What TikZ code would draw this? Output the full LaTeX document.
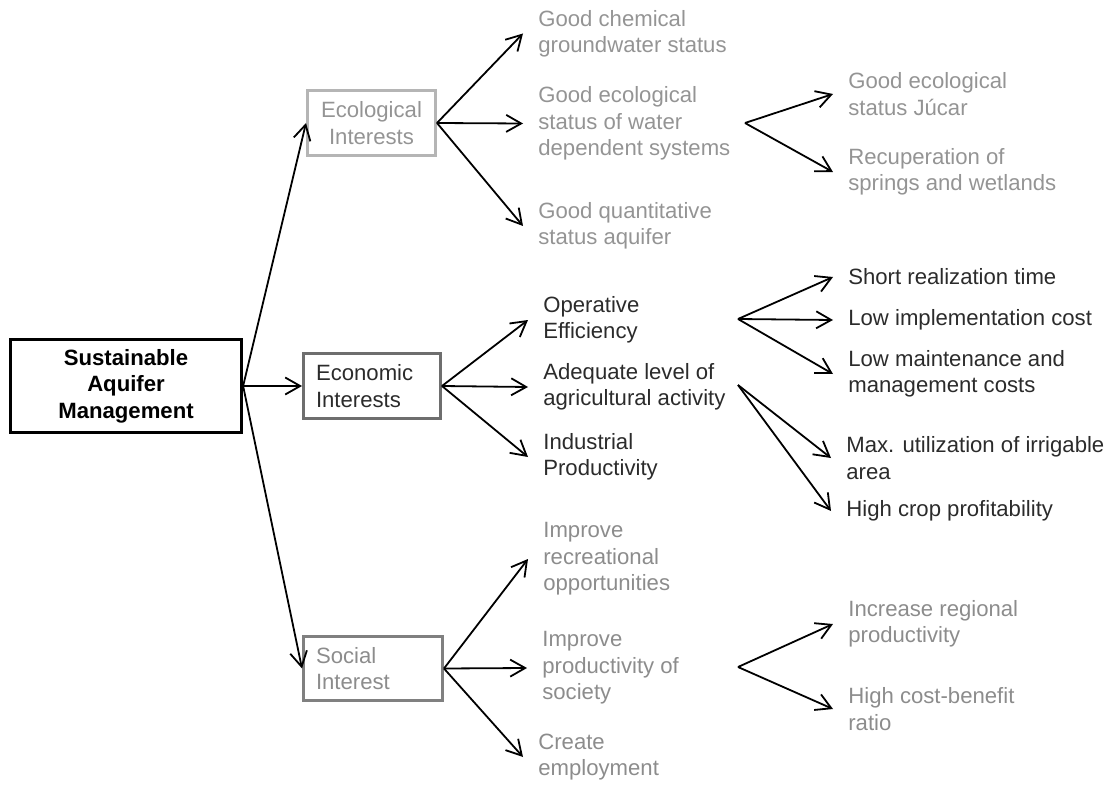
\documentclass[tikz,border=0pt]{standalone}
\usepackage{fontspec}
\setmainfont{Liberation Sans}
\usetikzlibrary{arrows.meta}
\definecolor{ecoline}{gray}{0.71}
\definecolor{ecotext}{gray}{0.58}
\definecolor{econline}{gray}{0.43}
\definecolor{econtext}{gray}{0.17}
\definecolor{socline}{gray}{0.5}
\definecolor{soctext}{gray}{0.55}
\tikzset{
	box/.style={draw, line width=0.06cm, minimum height=1.3cm, inner xsep=0.25cm},
	leaf/.style={anchor=west, align=left, inner xsep=0.3cm, inner ysep=0pt},
	arr/.style={-{Straight Barb[length=0.3cm,width=0.34cm,line width=0.036cm]}, line width=0.036cm}
}
\begin{document}
\begin{tikzpicture}[x=0.02cm, y=-0.02cm, font=\fontsize{12.6}{15}\selectfont]
			\useasboundingbox (0,0) rectangle (1109,787);
			\node[box, line width=0.066cm, minimum width=4.62cm, minimum height=1.86cm, align=center, font=\fontsize{12.6}{15}\selectfont\bfseries] (root) at (126,386) {Sustainable\\Aquifer\\Management};
			\node[box, draw=ecoline, text=ecotext, minimum width=2.56cm, align=center] (eco) at (371.5,123) {Ecological\\Interests};
			\node[box, draw=econline, text=econtext, text width=2.24cm, align=left] (econ) at (372,386) {Economic\\Interests};
			\node[box, draw=socline, text=soctext, text width=2.28cm, align=left] (soc) at (373,668.5) {Social\\Interest};
			\foreach \n/\x/\y/\t in {chem/523/33.5/{Good chemical\\groundwater status}, ecostat/523/123.5/{Good ecological\\status of water\\dependent systems}, quant/523/226/{Good quantitative\\status aquifer}, jucar/833/94/{Good ecological\\status Júcar}, springs/833/172/{Recuperation of\\springs and wetlands}}{
				\node[leaf, text=ecotext] (\n) at (\x,\y) {\t};
			}
			\foreach \n/\x/\y/\t in {oper/528/320/{Operative\\Efficiency}, adeq/528/387/{Adequate level of\\agricultural activity}, indus/528/457/{Industrial\\Productivity}, short/833/277/{Short realization time}, lowimpl/833/320/{Low implementation cost}, lowmaint/833/374/{Low maintenance and\\management costs}, irrig/831/458/{Max. utilization of irrigable\\area}, crop/831/511/{High crop profitability}}{
				\node[leaf, text=econtext] (\n) at (\x,\y) {\t};
			}
			\foreach \n/\x/\y/\t in {recre/528/559/{Improve\\recreational\\opportunities}, prodsoc/527/668/{Improve\\productivity of\\society}, employ/523/757/{Create\\employment}, regional/833/624/{Increase regional\\productivity}, costben/833/709/{High cost-benefit\\ratio}}{
				\node[leaf, text=soctext] (\n) at (\x,\y) {\t};
			}
			\coordinate (jeco) at (745,123);
			\coordinate (joper) at (738,319);
			\coordinate (jadeq) at (738,385);
			\coordinate (jsoc) at (738,667);
			\foreach \a/\b in {root/eco, root/econ, root/soc, eco/chem, eco/ecostat, eco/quant, econ/oper, econ/adeq, econ/indus, soc/recre, soc/prodsoc, soc/employ}{
				\draw[arr] (\a.east) -- (\b.west);
			}
			\foreach \a/\b in {jeco/jucar, jeco/springs, joper/short, joper/lowimpl, joper/lowmaint, jadeq/irrig, jadeq/crop, jsoc/regional, jsoc/costben}{
				\draw[arr] (\a) -- (\b.west);
			}
		\end{tikzpicture}
\end{document}
